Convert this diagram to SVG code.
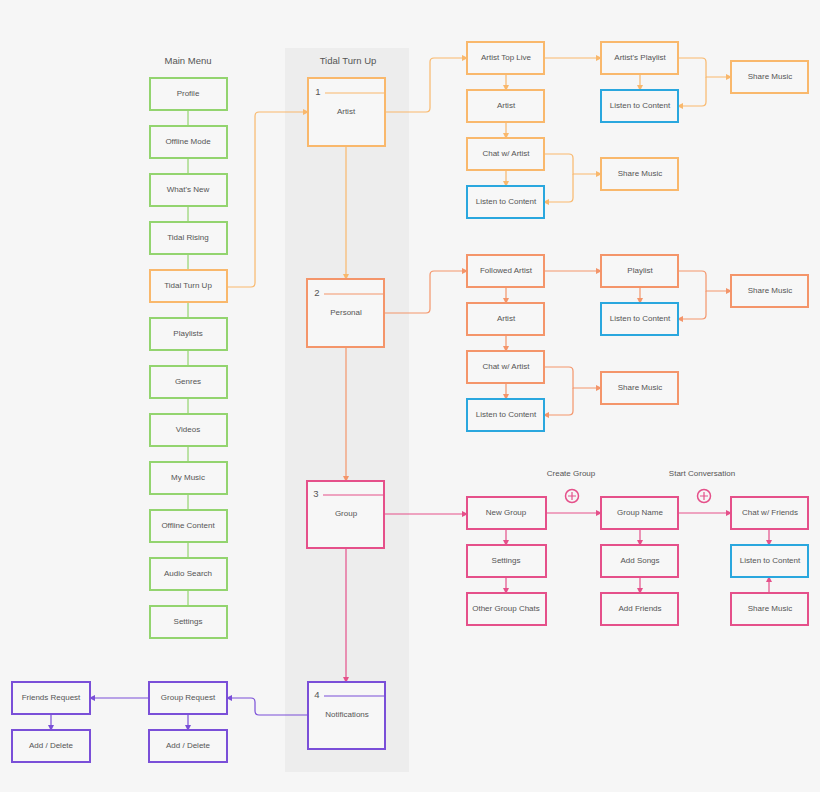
<svg xmlns="http://www.w3.org/2000/svg" width="820" height="792" viewBox="0 0 820 792">
<style>
text{font-family:"Liberation Sans",Arial,sans-serif;font-size:8px;fill:#555;text-anchor:middle;dominant-baseline:middle}
.t{font-size:9.5px}
rect{fill:#f7f7f7;stroke-width:2}
.g rect{stroke:#93d46f}.o rect{stroke:#f9b86c}.c rect{stroke:#f4956a}.p rect{stroke:#e5508a}.v rect{stroke:#7a4fd8}
rect.b{stroke:#2aa7de !important}
path{fill:none;stroke-width:1.2}
</style>
<defs>
<marker id="ao" viewBox="0 0 6 6" refX="5" refY="3" markerWidth="5" markerHeight="5" orient="auto"><path d="M0,0L6,3L0,6z" style="fill:#f9b86c;stroke:none"/></marker>
<marker id="ac" viewBox="0 0 6 6" refX="5" refY="3" markerWidth="5" markerHeight="5" orient="auto"><path d="M0,0L6,3L0,6z" style="fill:#f4956a;stroke:none"/></marker>
<marker id="ap" viewBox="0 0 6 6" refX="5" refY="3" markerWidth="5" markerHeight="5" orient="auto"><path d="M0,0L6,3L0,6z" style="fill:#e5508a;stroke:none"/></marker>
<marker id="av" viewBox="0 0 6 6" refX="5" refY="3" markerWidth="5" markerHeight="5" orient="auto"><path d="M0,0L6,3L0,6z" style="fill:#7a4fd8;stroke:none"/></marker>
</defs>
<rect x="0" y="0" width="820" height="792" style="fill:#f6f6f6;stroke:none"/>
<rect x="285" y="48" width="124" height="724" style="fill:#ededed;stroke:none"/>
<text x="188" y="61" class="t">Main Menu</text>
<text x="348" y="61" class="t">Tidal Turn Up</text>
<text x="571" y="474">Create Group</text>
<text x="702" y="474">Start Conversation</text>
<g id="connectors">
<g stroke="#93d46f"><path d="M188,110V126M188,158V174M188,206V222M188,254V270M188,302V318M188,350V366M188,398V414M188,446V462M188,494V510M188,542V558M188,590V606"/></g>
<g stroke="#f9b86c" marker-end="url(#ao)">
<path d="M227,287H251Q255,287 255,283V116Q255,112 259,112H308"/>
<path d="M385,112H426Q430,112 430,108V62Q430,58 434,58H467"/>
<path d="M544,58H601"/><path d="M506,74V90"/><path d="M506,122V138"/><path d="M506,170V186"/><path d="M640,74V90"/>
<path d="M678,58H702Q706,58 706,62V77H731"/><path d="M706,77V102Q706,106 702,106H678"/>
<path d="M544,154H569Q573,154 573,158V174H601"/><path d="M573,174V198Q573,202 569,202H544"/>
<path d="M346,146V279"/>
</g>
<g stroke="#f4956a" marker-end="url(#ac)">
<path d="M384,313H426Q430,313 430,309V275Q430,271 434,271H467"/>
<path d="M544,271H601"/><path d="M506,287V303"/><path d="M506,335V351"/><path d="M506,383V399"/><path d="M640,287V303"/>
<path d="M678,271H702Q706,271 706,275V291H731"/><path d="M706,291V315Q706,319 702,319H678"/>
<path d="M544,367H569Q573,367 573,371V388H601"/><path d="M573,388V411Q573,415 569,415H544"/>
<path d="M346,347V481"/>
</g>
<g stroke="#e5508a" marker-end="url(#ap)">
<path d="M384,514H467"/><path d="M546,513H601"/><path d="M678,513H731"/>
<path d="M506,529V545"/><path d="M506,577V593"/><path d="M640,529V545"/><path d="M640,577V593"/><path d="M769,529V545"/><path d="M769,593V577"/>
<path d="M346,548V682"/>
</g>
<g stroke="#7a4fd8" marker-end="url(#av)">
<path d="M308,715H259Q255,715 255,711V702Q255,698 251,698H227"/>
<path d="M149,698H90"/><path d="M51,714V730"/><path d="M188,714V730"/>
</g>
</g>
<g class="g">
<g id="profile"><rect x="150" y="78" width="77" height="32"/><text x="188" y="94">Profile</text></g>
<g id="offline"><rect x="150" y="126" width="77" height="32"/><text x="188" y="142">Offline Mode</text></g>
<g id="new"><rect x="150" y="174" width="77" height="32"/><text x="188" y="190">What's New</text></g>
<g id="rising"><rect x="150" y="222" width="77" height="32"/><text x="188" y="238">Tidal Rising</text></g>
<g id="turnup" class="o"><rect x="150" y="270" width="77" height="32"/><text x="188" y="286">Tidal Turn Up</text></g>
<g id="playlists"><rect x="150" y="318" width="77" height="32"/><text x="188" y="334">Playlists</text></g>
<g id="genres"><rect x="150" y="366" width="77" height="32"/><text x="188" y="382">Genres</text></g>
<g id="videos"><rect x="150" y="414" width="77" height="32"/><text x="188" y="430">Videos</text></g>
<g id="mymusic"><rect x="150" y="462" width="77" height="32"/><text x="188" y="478">My Music</text></g>
<g id="offcontent"><rect x="150" y="510" width="77" height="32"/><text x="188" y="526">Offline Content</text></g>
<g id="audio"><rect x="150" y="558" width="77" height="32"/><text x="188" y="574">Audio Search</text></g>
<g id="settings"><rect x="150" y="606" width="77" height="32"/><text x="188" y="622">Settings</text></g>
</g>
<g class="o">
<g id="artist"><rect x="308" y="78" width="77" height="68"/><text x="318" y="92" class="t">1</text><path d="M325,93H385" stroke="#f9b86c"/><text x="346" y="112">Artist</text></g>
<g id="atl"><rect x="467" y="42" width="77" height="32"/><text x="506" y="58">Artist Top Live</text></g>
<g id="a_artist"><rect x="467" y="90" width="77" height="32"/><text x="506" y="106">Artist</text></g>
<g id="a_chat"><rect x="467" y="138" width="77" height="32"/><text x="506" y="154">Chat w/ Artist</text></g>
<g id="a_listen"><rect class="b" x="467" y="186" width="77" height="32"/><text x="506" y="202">Listen to Content</text></g>
<g id="a_pl"><rect x="601" y="42" width="77" height="32"/><text x="640" y="58">Artist's Playlist</text></g>
<g id="a_listen2"><rect class="b" x="601" y="90" width="77" height="32"/><text x="640" y="106">Listen to Content</text></g>
<g id="a_share"><rect x="601" y="158" width="77" height="32"/><text x="640" y="174">Share Music</text></g>
<g id="a_share2"><rect x="731" y="61" width="77" height="32"/><text x="770" y="77">Share Music</text></g>
</g>
<g class="c">
<g id="personal"><rect x="307" y="279" width="77" height="68"/><text x="317" y="293" class="t">2</text><path d="M324,294H384" stroke="#f4956a"/><text x="346" y="313">Personal</text></g>
<g id="fa"><rect x="467" y="255" width="77" height="32"/><text x="506" y="271">Followed Artist</text></g>
<g id="p_artist"><rect x="467" y="303" width="77" height="32"/><text x="506" y="319">Artist</text></g>
<g id="p_chat"><rect x="467" y="351" width="77" height="32"/><text x="506" y="367">Chat w/ Artist</text></g>
<g id="p_listen"><rect class="b" x="467" y="399" width="77" height="32"/><text x="506" y="415">Listen to Content</text></g>
<g id="p_pl"><rect x="601" y="255" width="77" height="32"/><text x="640" y="271">Playlist</text></g>
<g id="p_listen2"><rect class="b" x="601" y="303" width="77" height="32"/><text x="640" y="319">Listen to Content</text></g>
<g id="p_share"><rect x="601" y="372" width="77" height="32"/><text x="640" y="388">Share Music</text></g>
<g id="p_share2"><rect x="731" y="275" width="77" height="32"/><text x="770" y="291">Share Music</text></g>
</g>
<g class="p">
<g id="group"><rect x="307" y="481" width="77" height="67"/><text x="316" y="494" class="t">3</text><path d="M323,495H384" stroke="#e5508a"/><text x="346" y="514">Group</text></g>
<g id="newgroup"><rect x="467" y="497" width="79" height="32"/><text x="506" y="513">New Group</text></g>
<g id="g_settings"><rect x="467" y="545" width="79" height="32"/><text x="506" y="561">Settings</text></g>
<g id="other"><rect x="467" y="593" width="79" height="32"/><text x="506" y="609">Other Group Chats</text></g>
<g id="gname"><rect x="601" y="497" width="77" height="32"/><text x="640" y="513">Group Name</text></g>
<g id="songs"><rect x="601" y="545" width="77" height="32"/><text x="640" y="561">Add Songs</text></g>
<g id="friends"><rect x="601" y="593" width="77" height="32"/><text x="640" y="609">Add Friends</text></g>
<g id="chatf"><rect x="731" y="497" width="77" height="32"/><text x="770" y="513">Chat w/ Friends</text></g>
<g id="g_listen"><rect class="b" x="731" y="545" width="77" height="32"/><text x="770" y="561">Listen to Content</text></g>
<g id="g_share"><rect x="731" y="593" width="77" height="32"/><text x="770" y="609">Share Music</text></g>
<g id="plus1"><circle cx="572" cy="496" r="6.5" fill="none" stroke="#e5508a" stroke-width="1.5"/><path d="M568,496H576M572,492V500" stroke="#e5508a" stroke-width="1.5"/></g>
<g id="plus2"><circle cx="704" cy="496" r="6.5" fill="none" stroke="#e5508a" stroke-width="1.5"/><path d="M700,496H708M704,492V500" stroke="#e5508a" stroke-width="1.5"/></g>
</g>
<g class="v">
<g id="notif"><rect x="308" y="682" width="77" height="67"/><text x="317" y="695" class="t">4</text><path d="M324,696H385" stroke="#7a4fd8"/><text x="347" y="715">Notifications</text></g>
<g id="greq"><rect x="149" y="682" width="78" height="32"/><text x="188" y="698">Group Request</text></g>
<g id="gadd"><rect x="149" y="730" width="78" height="32"/><text x="188" y="746">Add / Delete</text></g>
<g id="freq"><rect x="12" y="682" width="78" height="32"/><text x="51" y="698">Friends Request</text></g>
<g id="fadd"><rect x="12" y="730" width="78" height="32"/><text x="51" y="746">Add / Delete</text></g>
</g>
</svg>
